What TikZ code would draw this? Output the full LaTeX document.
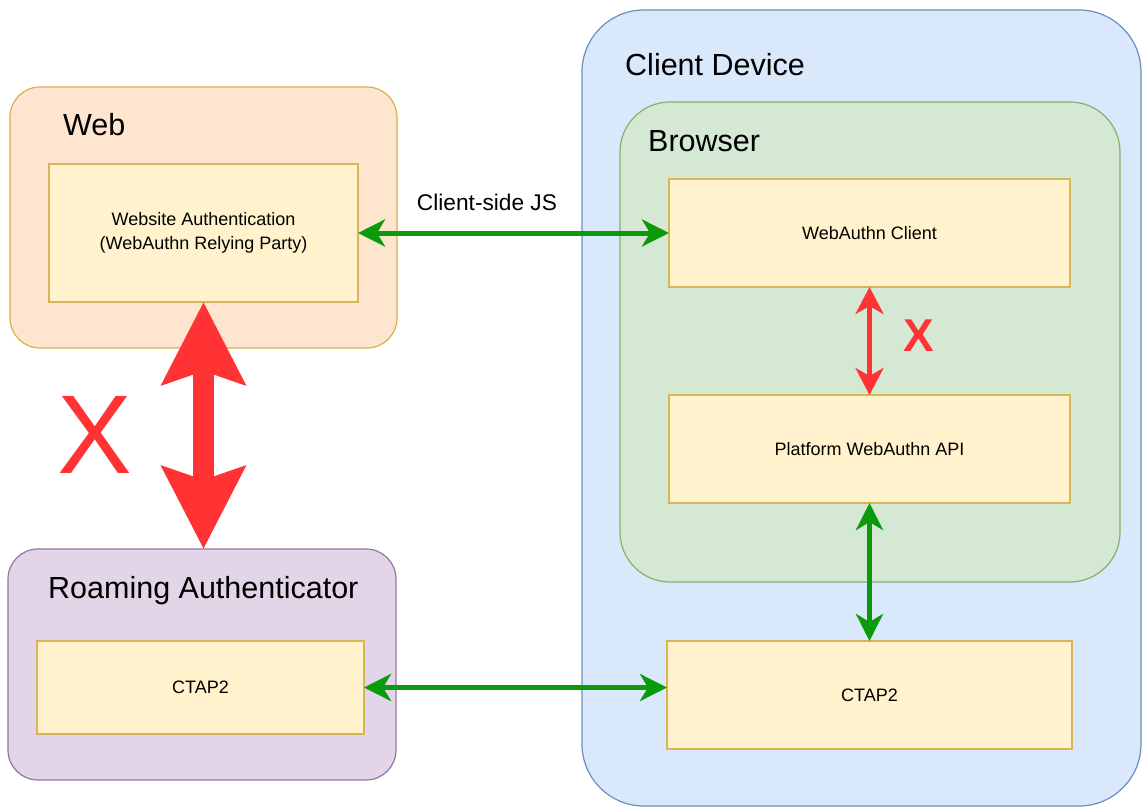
\documentclass[tikz,border=0pt]{standalone}
\usepackage{fontspec}
\setmainfont{Liberation Sans}
\usetikzlibrary{arrows.meta}

\definecolor{webfill}{HTML}{FDE5D0}
\definecolor{webline}{HTML}{D9AE4F}
\definecolor{boxfill}{HTML}{FFF2CC}
\definecolor{boxline}{HTML}{D6B656}
\definecolor{devfill}{HTML}{DAE8FC}
\definecolor{devline}{HTML}{6C8EBF}
\definecolor{brfill}{HTML}{D5E8D4}
\definecolor{brline}{HTML}{82B366}
\definecolor{roamfill}{HTML}{E1D5E7}
\definecolor{roamline}{HTML}{9673A6}
\definecolor{okgreen}{HTML}{0A9A0A}
\definecolor{nored}{HTML}{FF3333}

\begin{document}
\begin{tikzpicture}[x=1pt,y=-1pt,
  container/.style={draw, line width=1.2pt, rectangle, inner sep=0pt, outer sep=0pt},
  component/.style={draw=boxline, fill=boxfill, line width=1.2pt, rectangle,
    inner sep=0pt, outer sep=0pt, align=center, font=\fontsize{18}{24}\selectfont},
  title/.style={anchor=base west, inner sep=0pt, font=\fontsize{30.5}{34}\selectfont},
  okarrow/.style={draw=okgreen, line width=5pt,
    {Stealth[length=27pt,width=27pt,inset=8pt]}-{Stealth[length=27pt,width=27pt,inset=8pt]}},
  noarrow/.style={draw=nored, line width=4.5pt,
    {Stealth[length=27pt,width=28pt,inset=8pt]}-{Stealth[length=27pt,width=28pt,inset=8pt]}},
  bignoarrow/.style={draw=nored, line width=21pt,
    {Stealth[length=82pt,width=82pt,inset=13pt]}-{Stealth[length=82pt,width=82pt,inset=13pt]}},
  cross/.style={text=nored, inner sep=0pt}
]
\useasboundingbox (0,0) rectangle (1142,808);

% containers
\node[container, draw=webline, fill=webfill, rounded corners=30pt,
  minimum width=387pt, minimum height=261pt] (web) at (203.5,217.5) {};
\node[container, draw=devline, fill=devfill, rounded corners=62pt,
  minimum width=559pt, minimum height=796pt] (device) at (861.5,408) {};
\node[container, draw=brline, fill=brfill, rounded corners=50pt,
  minimum width=500pt, minimum height=480pt] (browser) at (870,342) {};
\node[container, draw=roamline, fill=roamfill, rounded corners=30pt,
  minimum width=388pt, minimum height=231pt] (roaming) at (202,664.5) {};

% container titles
\node[title] (webtitle) at (63,135) {Web};
\node[title] (devtitle) at (625,75) {Client Device};
\node[title] (brtitle) at (648,151) {Browser};
\node[title] (roamtitle) at (48,598) {Roaming Authenticator};

% components
\node[component, minimum width=309pt, minimum height=138pt] (site) at (203.5,233)
  {Website Authentication\\(WebAuthn Relying Party)};
\node[component, minimum width=401pt, minimum height=108pt] (client) at (869.5,233)
  {WebAuthn Client};
\node[component, minimum width=401pt, minimum height=108pt] (platform) at (869.5,449)
  {Platform WebAuthn API};
\node[component, minimum width=405pt, minimum height=108pt] (ctapdev) at (869.5,695)
  {CTAP2};
\node[component, minimum width=327pt, minimum height=93pt] (ctaproam) at (200.5,687.5)
  {CTAP2};

% working links
\draw[okarrow] (site.east) -- (client.west);
\node[inner sep=0pt, font=\fontsize{22.7}{26}\selectfont] (jslabel) at (487,202) {Client-side JS};
\draw[okarrow] (platform.south) -- (ctapdev.north);
\draw[okarrow] (ctaproam.east) -- (ctaproam.east -| ctapdev.west);

% blocked links
\draw[noarrow] (client.south) -- (platform.north);
\node[cross, font=\bfseries\fontsize{46}{46}\selectfont] (smallx) at (919,336) {X};
\draw[bignoarrow] (site.south) -- (site.south |- roaming.north);
\node[cross, font=\fontsize{112}{112}\selectfont] (bigx) at (95,435) {X};
\end{tikzpicture}
\end{document}
